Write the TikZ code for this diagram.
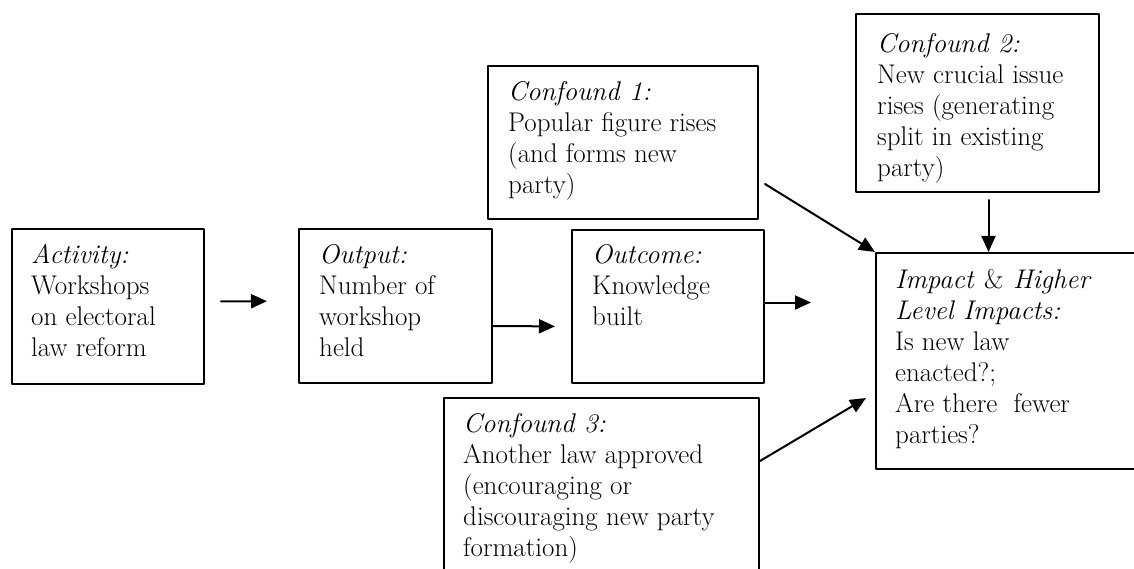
\documentclass[tikz,border=0pt]{standalone}
\usepackage{tikz}
\usetikzlibrary{arrows.meta}

\newcommand{\boxtext}[1]{\parbox[t]{330pt}{#1}}

\begin{document}
\begin{tikzpicture}[line cap=round,line join=round,x=1pt,y=-1pt,
  >={Triangle[length=16pt,width=14pt]},
  box/.style={draw,line width=2pt,anchor=north west,inner sep=0pt},
  txt/.style={anchor=base west,inner sep=0pt,font=\fontsize{27}{31}\selectfont},
  arr/.style={->,line width=2pt}]
\useasboundingbox (0,0) rectangle (1134,569);
\fill[white] (0,0) rectangle (1134,569);
\clip (0,0) rectangle (1134,569);
% boxes
\node[box,minimum width=192pt,minimum height=155pt] (act) at (11,228) {};
\node[box,minimum width=193pt,minimum height=154pt] (outp) at (298,228) {};
\node[box,minimum width=192pt,minimum height=153pt] (outc) at (571,229) {};
\node[box,minimum width=290pt,minimum height=216pt] (imp) at (875,252) {};
\node[box,minimum width=270pt,minimum height=153pt] (conf1) at (487,65) {};
\node[box,minimum width=243pt,minimum height=178pt] (conf2) at (855,13) {};
\node[box,minimum width=315pt,minimum height=200pt] (conf3) at (443,397) {};
% texts
\node[txt] (actT) at ([xshift=20pt,yshift=-35pt]act.north west)
  {\boxtext{\textit{Activity:}\\Workshops\\on electoral\\law reform}};
\node[txt] (outpT) at ([xshift=21pt,yshift=-35pt]outp.north west)
  {\boxtext{\textit{Output:}\\Number of\\workshop\\held}};
\node[txt] (outcT) at ([xshift=21pt,yshift=-34pt]outc.north west)
  {\boxtext{\textit{Outcome:}\\Knowledge\\built}};
\node[txt] (impT) at ([xshift=20pt,yshift=-36pt]imp.north west)
  {\boxtext{\textit{Impact \textup{\&} Higher}\\\textit{Level Impacts:}\\Is new law\\enacted?;\\Are there~ fewer\\parties?}};
\node[txt] (conf1T) at ([xshift=21pt,yshift=-36pt]conf1.north west)
  {\boxtext{\textit{Confound 1:}\\Popular figure rises\\(and forms new\\party)}};
\node[txt] (conf2T) at ([xshift=22pt,yshift=-40pt]conf2.north west)
  {\boxtext{\textit{Confound 2:}\\New crucial issue\\rises (generating\\split in existing\\party)}};
\node[txt] (conf3T) at ([xshift=20pt,yshift=-35pt]conf3.north west)
  {\boxtext{\textit{Confound 3:}\\Another law approved\\(encouraging or\\discouraging new party\\formation)}};
% arrows
\draw[arr,shorten <=16pt,shorten >=31pt] ([yshift=5pt]act.east) -- ([yshift=5pt]outp.west);
\draw[arr,shorten >=16pt] ([yshift=-20pt]outp.east) -- ([yshift=-20pt]outc.west);
\draw[arr,shorten >=64pt] ([yshift=4pt]outc.east) -- ([yshift=4pt]outc.east -| imp.west);
\draw[arr] ([xshift=6pt,yshift=36pt]conf1.south east) -- (imp.north west);
\coordinate (c2a) at ([xshift=11pt,yshift=-7pt]conf2.south);
\draw[arr] (c2a) -- (c2a |- imp.north);
\draw[arr] ([yshift=-64pt]conf3.north east) -- ([xshift=-9pt,yshift=-146pt]imp.north west);
\end{tikzpicture}
\end{document}
